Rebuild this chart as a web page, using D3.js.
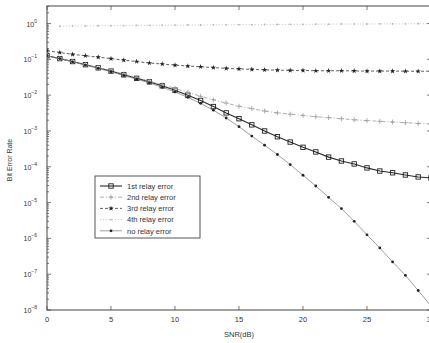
<!DOCTYPE html>
<html>
<head>
<meta charset="utf-8">
<script src="https://cdn.jsdelivr.net/npm/d3@7"></script>
<style>
  body { margin: 0; background: #fff; }
  svg { display: block; font-family: "Liberation Sans", Arial, sans-serif; }
</style>
</head>
<body>
<div id="chart"></div>
<script>
var width = 429;
var height = 343;

// SNR values (dB)
var snr = [0,1,2,3,4,5,6,7,8,9,10,11,12,13,14,15,16,17,18,19,20,21,22,23,24,25,26,27,28,29,30];

// bit error rate of each case
var relay1 = [1.26e-1,1.05e-1,8.7e-2,7.1e-2,5.8e-2,4.7e-2,3.7e-2,2.95e-2,2.35e-2,1.82e-2,1.38e-2,1.0e-2,7.1e-3,4.8e-3,3.2e-3,2.2e-3,1.48e-3,1.0e-3,6.9e-4,4.9e-4,3.5e-4,2.6e-4,1.86e-4,1.45e-4,1.2e-4,9.3e-5,7.6e-5,6.8e-5,5.9e-5,5.2e-5,4.9e-5];
var relay2 = [1.26e-1,1.05e-1,8.7e-2,7.2e-2,5.9e-2,4.8e-2,3.9e-2,3.1e-2,2.45e-2,1.95e-2,1.55e-2,1.2e-2,9.3e-3,7.4e-3,6.0e-3,4.9e-3,4.2e-3,3.6e-3,3.2e-3,2.95e-3,2.7e-3,2.5e-3,2.35e-3,2.2e-3,2.05e-3,1.95e-3,1.86e-3,1.78e-3,1.7e-3,1.62e-3,1.58e-3];
var relay3 = [1.74e-1,1.55e-1,1.38e-1,1.26e-1,1.15e-1,1.05e-1,9.5e-2,8.7e-2,7.9e-2,7.4e-2,6.9e-2,6.5e-2,6.2e-2,5.9e-2,5.6e-2,5.4e-2,5.25e-2,5.1e-2,5.0e-2,4.9e-2,4.9e-2,4.8e-2,4.8e-2,4.8e-2,4.75e-2,4.7e-2,4.7e-2,4.7e-2,4.65e-2,4.65e-2,4.65e-2];
var relay4 = [null,0.84,0.85,0.86,0.87,0.87,0.88,0.89,0.89,0.9,0.9,0.91,0.91,0.92,0.92,0.93,0.93,0.94,0.94,0.95,0.95,0.96,0.96,0.97,0.97,0.97,0.98,0.98,0.98,0.99,0.99];
var noRelay = [1.26e-1,1.05e-1,8.5e-2,6.9e-2,5.6e-2,4.5e-2,3.5e-2,2.8e-2,2.2e-2,1.66e-2,1.23e-2,8.7e-3,5.9e-3,3.8e-3,2.3e-3,1.32e-3,7.2e-4,4.0e-4,2.2e-4,1.15e-4,5.8e-5,2.9e-5,1.4e-5,6.8e-6,3.0e-6,1.26e-6,5.4e-7,2.2e-7,9.3e-8,3.5e-8,1.3e-8];

var seriesNames = ["1st relay error", "2nd relay error", "3rd relay error", "4th relay error", "no relay error"];

var xTicks = [0, 5, 10, 15, 20, 25, 30];
var yTickExp = [0, -1, -2, -3, -4, -5, -6, -7, -8];

var x0 = 47, x1 = 431, y0 = 310, y1 = 6;

var xScale = d3.scaleLinear().domain([0, 30]).range([x0, x1]);
var yScale = d3.scaleLog().domain([1e-8, Math.pow(10, 0.49)]).range([y0, y1]);

var svg = d3.select("#chart").append("svg")
    .attr("width", width)
    .attr("height", height);

svg.append("clipPath").attr("id", "clip")
    .append("rect")
    .attr("x", x0).attr("y", y1)
    .attr("width", x1 - x0).attr("height", y0 - y1);

var ink = "#333";

// ticks (inward, on all four sides)
var axisG = svg.append("g").attr("stroke", "#555").attr("stroke-width", 0.8);
xTicks.forEach(function(t) {
    axisG.append("line").attr("x1", xScale(t)).attr("x2", xScale(t)).attr("y1", y0).attr("y2", y0 - 4);
    axisG.append("line").attr("x1", xScale(t)).attr("x2", xScale(t)).attr("y1", y1).attr("y2", y1 + 4);
});
for (var e = -8; e <= 0; e++) {
    for (var m = 1; m <= 9; m++) {
        var v = m * Math.pow(10, e);
        if (v > yScale.domain()[1]) continue;
        var len = (m === 1) ? 4 : 2;
        axisG.append("line").attr("x1", x0).attr("x2", x0 + len).attr("y1", yScale(v)).attr("y2", yScale(v));
        axisG.append("line").attr("x1", x1).attr("x2", x1 - len).attr("y1", yScale(v)).attr("y2", yScale(v));
    }
}

// frame
svg.append("rect")
    .attr("x", x0).attr("y", y1)
    .attr("width", x1 - x0).attr("height", y0 - y1)
    .attr("fill", "none").attr("stroke", "#444").attr("stroke-width", 1);

// tick labels
svg.selectAll(".xlab").data(xTicks).enter().append("text")
    .attr("class", "xlab")
    .attr("x", function(d) { return xScale(d); })
    .attr("y", 322)
    .attr("text-anchor", "middle")
    .attr("font-size", 7.5)
    .attr("fill", ink)
    .text(function(d) { return d; });

var yl = svg.selectAll(".ylab").data(yTickExp).enter().append("text")
    .attr("class", "ylab")
    .attr("x", 37)
    .attr("y", function(d) { return yScale(Math.pow(10, d)) + 3; })
    .attr("text-anchor", "end")
    .attr("font-size", 7)
    .attr("fill", ink);
yl.append("tspan").text("10");
yl.append("tspan").attr("dy", -4).attr("font-size", 5).text(function(d) { return d === 0 ? "0" : "\u2212" + (-d); });

svg.append("text")
    .attr("x", 239).attr("y", 337)
    .attr("text-anchor", "middle")
    .attr("font-size", 7.5)
    .attr("fill", ink)
    .text("SNR(dB)");

svg.append("text")
    .attr("transform", "translate(12," + 160 + ") rotate(-90)")
    .attr("text-anchor", "middle")
    .attr("font-size", 7)
    .attr("fill", ink)
    .text("Bit Error Rate");

// series
var styles = [
    {data: relay1, color: "#2a2a2a", width: 1.1, dash: null, marker: "square"},
    {data: relay2, color: "#9a9a9a", width: 0.8, dash: "4,2,1,2", marker: "plus"},
    {data: relay3, color: "#3a3a3a", width: 0.8, dash: "3,2", marker: "star"},
    {data: relay4, color: "#b5b5b5", width: 0.8, dash: "1,2", marker: "dot"},
    {data: noRelay, color: "#777", width: 0.7, dash: null, marker: "bigdot"}
];

var plot = svg.append("g").attr("clip-path", "url(#clip)");

var line = d3.line()
    .defined(function(d) { return d[1] !== null; })
    .x(function(d) { return xScale(d[0]); })
    .y(function(d) { return yScale(d[1]); });

function drawMarker(g, type, cx, cy, color) {
    if (type === "square") {
        g.append("rect").attr("x", cx - 2.2).attr("y", cy - 2.2).attr("width", 4.4).attr("height", 4.4)
            .attr("fill", "none").attr("stroke", "#222").attr("stroke-width", 0.9);
    } else if (type === "plus") {
        g.append("path").attr("d", "M" + (cx - 2.5) + "," + cy + "H" + (cx + 2.5) + "M" + cx + "," + (cy - 2.5) + "V" + (cy + 2.5))
            .attr("stroke", color).attr("stroke-width", 0.8);
    } else if (type === "star") {
        g.append("path").attr("d", d3.symbol().type(d3.symbolStar).size(9)())
            .attr("transform", "translate(" + cx + "," + cy + ")")
            .attr("fill", "#222");
    } else if (type === "dot") {
        g.append("circle").attr("cx", cx).attr("cy", cy).attr("r", 0.9).attr("fill", color);
    } else {
        g.append("circle").attr("cx", cx).attr("cy", cy).attr("r", 1.4).attr("fill", "#222");
    }
}

styles.forEach(function(s) {
    var pts = snr.map(function(d, i) { return [d, s.data[i]]; });
    plot.append("path")
        .datum(pts)
        .attr("fill", "none")
        .attr("stroke", s.color)
        .attr("stroke-width", s.width)
        .attr("stroke-dasharray", s.dash)
        .attr("d", line);
    var mg = plot.append("g");
    pts.forEach(function(p) {
        if (p[1] === null) return;
        drawMarker(mg, s.marker, xScale(p[0]), yScale(p[1]), s.color);
    });
});

// legend
var lg = svg.append("g");
lg.append("rect")
    .attr("x", 95).attr("y", 176).attr("width", 105).attr("height", 62)
    .attr("fill", "#fff").attr("stroke", "#444").attr("stroke-width", 0.9);
styles.forEach(function(s, i) {
    var yy = 186 + i * 11.2;
    lg.append("line")
        .attr("x1", 100).attr("x2", 122).attr("y1", yy).attr("y2", yy)
        .attr("stroke", s.color).attr("stroke-width", s.width)
        .attr("stroke-dasharray", s.dash);
    drawMarker(lg, s.marker, 111, yy, s.color);
    lg.append("text")
        .attr("x", 127).attr("y", yy + 2.7)
        .attr("font-size", 7.5)
        .attr("fill", ink)
        .text(seriesNames[i]);
});
</script>
</body>
</html>
